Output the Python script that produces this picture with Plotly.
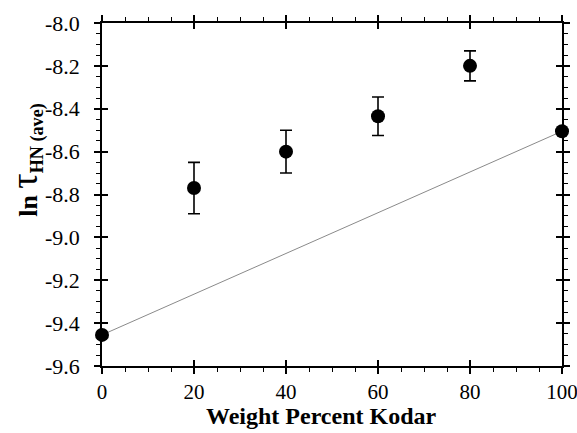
import plotly.graph_objects as go

# Data
weight_percent = [0, 20, 40, 60, 80, 100]
ln_tau = [-9.455, -8.77, -8.60, -8.435, -8.20, -8.505]
ln_tau_err = [0, 0.12, 0.10, 0.09, 0.07, 0]
line_x = [weight_percent[0], weight_percent[-1]]
line_y = [ln_tau[0], ln_tau[-1]]

y_tickvals = [-8.0, -8.2, -8.4, -8.6, -8.8, -9.0, -9.2, -9.4, -9.6]
y_ticktext = ["-8.0", "-8.2", "-8.4", "-8.6", "-8.8", "-9.0", "-9.2", "-9.4", "-9.6"]
x_tickvals = [0, 20, 40, 60, 80, 100]
x_ticktext = ["0", "20", "40", "60", "80", "100"]

FONT = "Liberation Serif"

fig = go.Figure()

fig.add_trace(go.Scatter(
    x=line_x, y=line_y, mode="lines",
    line=dict(color="#8a8a8a", width=1),
    cliponaxis=False, showlegend=False, hoverinfo="skip"))

fig.add_trace(go.Scatter(
    x=weight_percent, y=ln_tau, mode="markers",
    marker=dict(color="black", size=14, symbol="circle"),
    error_y=dict(type="data", array=ln_tau_err, visible=True,
                 color="black", thickness=1.6, width=6),
    cliponaxis=False, showlegend=False))

axis_common = dict(
    showline=True, linecolor="black", linewidth=1.5,
    mirror="ticks", ticks="outside", ticklen=6, tickwidth=1.5,
    tickcolor="black", showgrid=False, zeroline=False, automargin=False,
    ticklabeloverflow="allow",
)

fig.update_layout(
    width=577, height=433,
    margin=dict(l=102, r=15, t=23, b=67, pad=0),
    plot_bgcolor="white", paper_bgcolor="white",
    font=dict(family=FONT, color="black", size=21),
    xaxis=dict(
        range=[0, 100], tickvals=x_tickvals, ticktext=x_ticktext,
        tickfont=dict(family=FONT, size=21),
        ticklabelstandoff=0,
        minor=dict(ticks="outside", dtick=5, tick0=0, ticklen=4,
                   tickwidth=1, tickcolor="black", showgrid=False),
        **axis_common),
    yaxis=dict(
        range=[-9.6, -8.0], tickvals=y_tickvals, ticktext=y_ticktext,
        tickfont=dict(family=FONT, size=22),
        ticklabelstandoff=10,
        minor=dict(ticks="outside", dtick=0.05, tick0=-8.0, ticklen=4,
                   tickwidth=1, tickcolor="black", showgrid=False),
        **axis_common),
    xaxis2=dict(
        overlaying="x", anchor="y", side="bottom", range=[0, 100],
        tickvals=x_tickvals, showticklabels=False, ticks="inside",
        ticklen=6, tickwidth=1.5, tickcolor="black", mirror="ticks",
        showline=False, showgrid=False, zeroline=False, automargin=False),
    yaxis2=dict(
        overlaying="y", anchor="x", side="left", range=[-9.6, -8.0],
        tickvals=y_tickvals, showticklabels=False, ticks="inside",
        ticklen=6, tickwidth=1.5, tickcolor="black", mirror="ticks",
        showline=False, showgrid=False, zeroline=False, automargin=False),
    annotations=[
        dict(text="<b>Weight Percent Kodar</b>", xref="paper", yref="paper",
             x=0.4765, y=-0.147, xanchor="center", yanchor="middle",
             showarrow=False, font=dict(family=FONT, size=24)),
        dict(text="<b>ln </b><span style='font-size:38px'>τ</span>"
                  "<b><sub>HN (ave)</sub></b>",
             xref="paper", yref="paper", x=-0.166, y=0.6,
             xanchor="center", yanchor="middle", textangle=-90,
             showarrow=False, font=dict(family=FONT, size=26)),
    ],
)

# placeholder trace to activate the overlay axes
fig.add_trace(go.Scatter(x=[None], y=[None], xaxis="x2", yaxis="y2",
                         showlegend=False, hoverinfo="skip"))

fig.write_html("out.html",
               config={"displayModeBar": False},
               post_script="document.body.style.margin='0';"
                           "document.body.style.padding='0';")
